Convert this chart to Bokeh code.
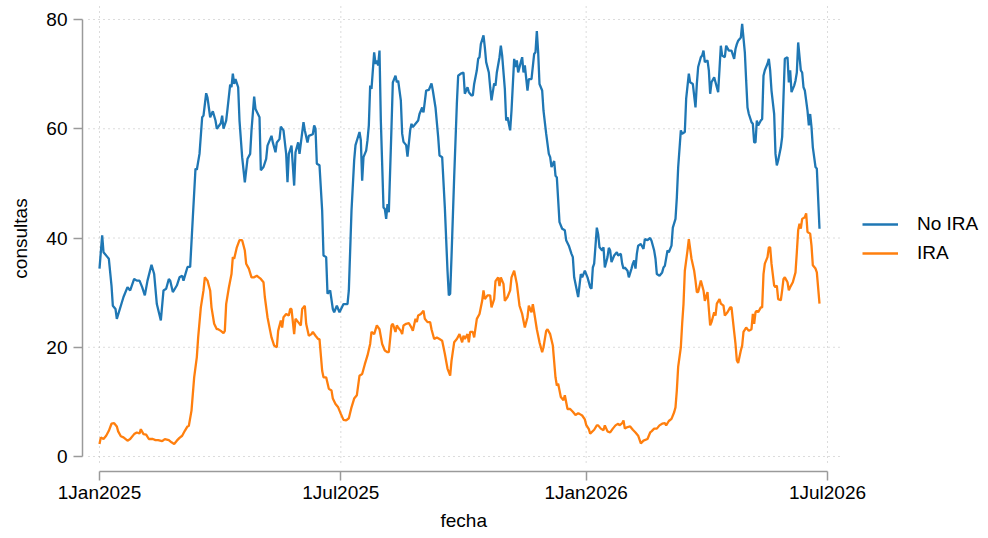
from datetime import date
from bokeh.plotting import figure
from bokeh.models import Range1d, FixedTicker, Legend, LegendItem, Title
from bokeh.embed import file_html
from bokeh.resources import INLINE

# ---------------- data ----------------
start_date = date(2025, 1, 1)
tick_dates = [date(2025, 1, 1), date(2025, 7, 1), date(2026, 1, 1), date(2026, 7, 1)]
tick_labels = ["1Jan2025", "1Jul2025", "1Jan2026", "1Jul2026"]
y_ticks = [0, 20, 40, 60, 80]
x_title = "fecha"
y_title = "consultas"

# days since 1 Jan 2025
no_ira_day = [0, 2, 3, 6, 7, 9, 10, 12, 13, 16, 18, 21, 23, 26, 28, 30, 32, 34, 36, 39, 41, 43, 46, 48, 50,
              52, 53, 55, 58, 60, 62, 63, 66, 68, 70, 72, 73, 75, 77, 78, 80, 81, 83, 85, 87, 88, 91, 92, 93,
              95, 96, 98, 99, 100, 101, 102, 104, 105, 107, 109, 111, 113, 114, 116, 117, 120, 121, 123, 125,
              126, 129, 130, 132, 133, 135, 136, 138, 140, 141, 142, 144, 146, 147, 149, 150, 153, 154, 156,
              157, 160, 161, 162, 163, 165, 167, 168, 170, 171, 173, 175, 176, 178, 180, 183, 186, 187, 189,
              191, 192, 195, 196, 197, 198, 200, 201, 202, 203, 204, 206, 207, 208, 209, 210, 211, 213, 214,
              215, 216, 217, 219, 220, 222, 223, 224, 226, 227, 228, 230, 231, 233, 234, 235, 237, 239, 240,
              242, 243, 245, 247, 249, 250, 252, 254, 255, 257, 259, 261, 262, 263, 264, 266, 268, 269, 271,
              273, 274, 276, 277, 279, 280, 281, 283, 284, 285, 286, 288, 289, 290, 292, 293, 294, 296, 297,
              298, 300, 301, 302, 304, 305, 306, 308, 309, 311, 312, 313, 314, 316, 317, 318, 319, 321, 322,
              324, 326, 327, 328, 329, 330, 332, 333, 335, 337, 338, 339, 341, 342, 343, 345, 347, 349, 350,
              352, 354, 355, 356, 359, 361, 362, 364, 366, 368, 369, 370, 371, 373, 374, 375, 377, 378, 379,
              381, 382, 383, 384, 386, 388, 389, 391, 392, 393, 394, 396, 397, 399, 400, 401, 402, 403, 404,
              406, 408, 409, 411, 413, 414, 416, 417, 418, 420, 422, 423, 424, 426, 427, 429, 430, 432, 433,
              434, 436, 437, 439, 440, 442, 443, 445, 447, 448, 449, 451, 452, 453, 454, 456, 457, 458, 459,
              461, 462, 464, 465, 466, 467, 469, 470, 472, 473, 474, 476, 477, 478, 479, 481, 482, 484, 485,
              486, 487, 489, 490, 491, 492, 493, 494, 496, 497, 498, 499, 501, 502, 503, 504, 506, 507, 508,
              509, 511, 512, 513, 514, 516, 517, 518, 519, 521, 522, 523, 524, 526, 527, 528, 529, 531, 532,
              533, 534, 535, 536, 537, 538, 540]
no_ira_val = [34.4, 40.5, 37.4, 36.5, 36.2, 31.3, 27.6, 27.0, 25.2, 27.6, 29.2, 31.0, 30.4, 32.5, 32.2, 32.2,
              31.0, 29.5, 32.2, 35.1, 33.4, 27.9, 24.9, 30.4, 30.7, 32.5, 32.2, 30.1, 31.3, 32.8, 33.1, 32.2,
              34.7, 34.7, 43.8, 52.7, 52.5, 55.4, 62.1, 62.4, 66.5, 65.7, 62.1, 63.2, 61.5, 60.0, 61.0, 62.4,
              60.0, 61.5, 63.6, 68.1, 67.6, 70.1, 68.2, 69.1, 67.6, 61.5, 54.8, 50.2, 54.5, 55.4, 59.7, 65.9,
              63.6, 62.1, 52.4, 53.0, 54.5, 56.9, 58.7, 57.5, 55.7, 57.5, 58.1, 60.4, 59.7, 55.4, 50.2, 55.4,
              56.9, 49.6, 55.7, 57.5, 55.4, 61.2, 59.7, 57.5, 58.7, 59.0, 60.6, 60.0, 53.6, 53.3, 45.0, 36.8,
              36.5, 29.8, 30.4, 27.0, 26.4, 27.6, 26.4, 27.9, 27.9, 30.4, 45.0, 54.2, 57.0, 59.4, 57.9, 50.5,
              54.8, 56.0, 57.9, 60.6, 67.9, 67.3, 74.0, 71.9, 72.5, 71.6, 74.3, 61.5, 45.6, 45.3, 43.5, 46.2,
              44.7, 60.3, 68.5, 69.7, 68.5, 68.8, 65.2, 59.1, 57.6, 57.0, 54.9, 59.7, 60.9, 60.3, 60.9, 61.5,
              62.7, 63.9, 63.0, 67.0, 67.1, 68.3, 67.0, 63.9, 58.5, 55.1, 54.8, 45.6, 34.0, 29.5, 29.8, 36.5,
              51.1, 64.5, 69.7, 70.1, 70.3, 66.4, 67.6, 66.7, 66.1, 66.1, 68.2, 70.7, 72.8, 73.1, 75.5, 77.1,
              74.9, 72.2, 70.3, 67.6, 65.2, 68.3, 67.9, 70.3, 73.1, 75.2, 73.4, 67.3, 61.5, 62.1, 59.7, 63.3,
              72.8, 71.3, 72.5, 70.3, 72.2, 73.1, 70.3, 71.6, 67.0, 69.1, 69.1, 73.7, 74.0, 77.9, 74.0, 68.2,
              67.0, 63.3, 59.1, 55.4, 54.8, 53.0, 54.1, 51.4, 51.1, 42.9, 41.7, 41.4, 39.6, 38.6, 37.1, 36.5,
              32.8, 29.2, 33.4, 32.8, 34.0, 32.8, 31.0, 30.7, 34.6, 35.3, 41.9, 40.7, 38.3, 37.7, 38.3, 34.6,
              36.5, 38.2, 37.7, 35.6, 36.8, 37.4, 36.8, 37.1, 35.3, 34.4, 34.6, 34.0, 32.8, 34.4, 35.3, 35.9,
              34.4, 37.1, 38.6, 38.9, 38.0, 39.8, 39.6, 40.0, 39.5, 37.7, 36.2, 33.4, 33.1, 33.7, 34.6, 34.9,
              37.7, 37.4, 38.6, 41.9, 43.5, 47.4, 52.9, 59.7, 59.1, 59.4, 65.5, 70.1, 68.5, 68.2, 63.9, 68.2,
              71.3, 73.1, 73.4, 74.3, 72.2, 72.5, 70.7, 66.4, 68.5, 69.4, 68.5, 66.7, 70.9, 75.2, 73.4, 73.1,
              75.2, 74.3, 74.3, 74.3, 72.8, 74.6, 75.5, 76.1, 76.7, 79.2, 74.0, 68.8, 63.9, 62.7, 61.2, 60.9,
              57.5, 57.5, 61.5, 60.6, 61.5, 61.8, 69.7, 70.7, 71.9, 72.8, 70.7, 67.0, 62.7, 55.4, 53.3, 54.2,
              56.6, 58.5, 65.8, 72.8, 73.1, 68.5, 70.7, 66.7, 67.9, 68.8, 70.3, 75.8, 70.7, 70.3, 67.6, 67.0,
              63.3, 60.6, 62.7, 60.3, 56.6, 54.8, 53.0, 52.7, 41.7]

ira_day = [0, 1, 3, 5, 7, 9, 11, 13, 14, 16, 18, 21, 23, 26, 28, 30, 31, 33, 35, 37, 40, 42, 44, 47, 49, 52,
           54, 56, 58, 60, 62, 64, 66, 67, 69, 71, 73, 74, 76, 78, 79, 81, 83, 84, 86, 88, 89, 91, 93, 94, 95,
           97, 99, 100, 101, 103, 105, 107, 109, 110, 112, 114, 116, 118, 119, 121, 123, 124, 126, 128, 129,
           131, 133, 134, 136, 137, 138, 140, 142, 143, 144, 146, 147, 149, 151, 152, 154, 155, 157, 159, 160,
           162, 164, 165, 167, 168, 170, 172, 174, 175, 177, 179, 181, 183, 185, 187, 189, 191, 193, 195, 197,
           199, 201, 203, 204, 206, 208, 210, 212, 214, 216, 217, 219, 220, 222, 223, 224, 226, 227, 228, 230,
           232, 234, 235, 237, 238, 239, 241, 243, 244, 246, 248, 249, 251, 253, 255, 257, 259, 261, 263, 264,
           266, 268, 270, 272, 273, 274, 276, 277, 278, 280, 281, 283, 285, 287, 288, 289, 291, 293, 294, 296,
           297, 299, 300, 301, 303, 304, 306, 308, 309, 311, 313, 315, 317, 319, 321, 322, 324, 325, 326, 328,
           330, 332, 333, 335, 336, 338, 340, 342, 343, 344, 346, 348, 349, 351, 352, 353, 355, 357, 359, 360,
           362, 364, 365, 367, 368, 371, 373, 374, 376, 378, 379, 381, 383, 385, 387, 389, 390, 392, 393, 394,
           396, 398, 400, 402, 404, 406, 408, 411, 413, 414, 416, 418, 420, 422, 424, 425, 427, 429, 431, 432,
           433, 434, 436, 437, 438, 439, 441, 442, 443, 444, 446, 447, 448, 449, 451, 452, 453, 454, 456, 457,
           458, 459, 461, 462, 463, 465, 466, 468, 469, 471, 473, 474, 476, 477, 478, 479, 481, 482, 483, 485,
           487, 489, 490, 491, 492, 493, 494, 496, 497, 498, 499, 501, 502, 503, 504, 506, 507, 508, 509, 511,
           512, 513, 514, 516, 517, 518, 520, 522, 523, 524, 525, 526, 527, 529, 530, 531, 533, 534, 535, 537,
           538, 540]
ira_val = [2.3, 3.5, 3.2, 3.8, 4.7, 6.0, 6.1, 5.5, 4.6, 3.7, 3.5, 2.9, 3.2, 4.1, 4.4, 4.2, 5.0, 4.1, 4.0, 3.2,
           3.2, 3.0, 3.0, 2.8, 3.2, 3.0, 2.6, 2.3, 2.9, 3.4, 3.8, 4.7, 5.5, 5.6, 8.4, 14.5, 18.2, 21.8, 27.3,
           30.4, 32.8, 32.2, 30.4, 27.3, 24.3, 23.3, 23.3, 23.0, 22.6, 23.0, 27.9, 30.9, 33.4, 36.5, 36.2, 38.3,
           39.6, 39.6, 37.7, 35.3, 34.4, 32.8, 32.8, 33.1, 32.9, 32.5, 31.9, 29.2, 25.5, 23.0, 21.8, 20.3, 20.0,
           23.0, 24.9, 23.6, 25.5, 26.1, 25.8, 27.0, 27.0, 22.4, 25.2, 24.6, 24.0, 27.0, 27.6, 24.3, 22.1, 22.4,
           22.8, 22.1, 21.5, 21.5, 15.7, 14.5, 14.5, 12.4, 12.1, 10.6, 9.6, 9.0, 7.8, 6.7, 6.6, 7.0, 9.0, 10.6,
           11.2, 14.8, 15.1, 16.9, 18.5, 20.6, 22.8, 22.4, 24.0, 23.3, 20.6, 19.4, 19.1, 19.1, 24.0, 24.3, 22.8,
           24.0, 23.6, 23.0, 22.4, 24.0, 24.3, 24.4, 23.6, 23.0, 25.2, 24.6, 25.8, 26.1, 26.7, 25.2, 24.6, 24.6,
           23.3, 21.5, 21.8, 21.5, 21.2, 18.8, 16.1, 14.8, 17.5, 20.9, 21.5, 22.4, 20.9, 22.1, 21.5, 22.4, 20.9,
           22.8, 22.8, 21.8, 25.2, 26.1, 28.5, 30.4, 28.8, 29.5, 29.5, 27.3, 28.8, 32.1, 32.8, 31.2, 32.8, 31.6,
           28.5, 29.2, 30.4, 32.8, 34.0, 31.6, 27.6, 26.1, 23.6, 25.5, 27.6, 26.4, 27.9, 26.4, 23.3, 20.9, 19.1,
           20.0, 23.0, 23.3, 22.4, 20.3, 14.5, 13.0, 13.3, 10.9, 10.3, 11.2, 8.7, 8.7, 8.7, 8.2, 7.6, 7.9, 7.8,
           7.5, 6.8, 5.8, 5.0, 4.2, 4.9, 5.7, 5.7, 5.1, 4.8, 5.7, 4.6, 4.4, 5.1, 5.7, 6.0, 5.7, 6.1, 6.6, 5.1,
           5.4, 5.5, 4.9, 4.4, 3.8, 2.4, 2.9, 3.2, 4.4, 4.6, 5.1, 5.1, 5.7, 6.0, 6.1, 5.7, 6.5, 6.9, 8.1, 9.0,
           12.1, 16.4, 20.0, 24.3, 27.9, 34.0, 37.7, 39.8, 38.0, 36.2, 34.0, 32.2, 30.1, 30.1, 32.2, 31.3, 30.4,
           28.5, 30.1, 27.0, 24.0, 24.6, 26.4, 25.8, 28.0, 28.8, 28.0, 27.6, 25.8, 26.4, 27.3, 27.3, 22.8, 20.6,
           17.6, 17.1, 19.4, 20.3, 22.8, 23.6, 23.0, 23.3, 26.1, 24.3, 26.4, 26.7, 26.4, 27.3, 27.3, 33.4, 35.3,
           36.5, 38.3, 38.3, 35.3, 31.3, 31.0, 31.3, 28.8, 28.6, 30.4, 32.5, 32.8, 31.9, 30.4, 31.0, 31.9, 33.7,
           37.4, 41.4, 42.6, 41.7, 43.5, 43.8, 44.5, 41.1, 40.8, 38.6, 35.0, 34.4, 33.7, 28.0]

series_names = ["No IRA", "IRA"]
series_colors = ["#1f77b4", "#ff7f0e"]

# ---------------- figure ----------------
tick_days = [(d - start_date).days for d in tick_dates]
FONT = "Liberation Sans"
FS = "19px"

# The frame runs from the y-axis line to the right edge so that the legend fits
# inside it; the dotted grid and the axis lines are drawn only over the data area.
p = figure(width=988, height=538, output_backend="svg", toolbar_location=None,
           x_range=Range1d(-12.75, 666.75), y_range=Range1d(-2.746, 82.563),
           min_border_left=82, min_border_right=0, min_border_top=5, min_border_bottom=67)
p.outline_line_color = None
p.background_fill_color = "white"
p.border_fill_color = "white"
p.xgrid.visible = False
p.ygrid.visible = False

grid_style = dict(line_color="#b8b8b8", line_dash="1 4", line_width=1)
p.segment(x0=[-8.25] * len(y_ticks), y0=y_ticks, x1=[556.5] * len(y_ticks), y1=y_ticks, **grid_style)
p.segment(x0=tick_days, y0=[-1.1] * len(tick_days), x1=tick_days, y1=[82.563] * len(tick_days), **grid_style)

r1 = p.line(no_ira_day, no_ira_val, line_color=series_colors[0], line_width=2.3)
r2 = p.line(ira_day, ira_val, line_color=series_colors[1], line_width=2.3)

# axes
for ax in (p.xaxis[0], p.yaxis[0]):
    ax.axis_line_color = "#9a9a9a"
    ax.axis_line_width = 1.5
    ax.major_tick_line_color = "#9a9a9a"
    ax.major_tick_line_width = 1.5
    ax.major_tick_out = 9
    ax.major_tick_in = 0
    ax.minor_tick_line_color = None
    ax.major_label_text_font = FONT
    ax.major_label_text_font_size = FS
    ax.major_label_text_color = "black"
    ax.axis_label_text_font = FONT
    ax.axis_label_text_font_size = FS
    ax.axis_label_text_font_style = "normal"
    ax.axis_label_text_color = "black"

p.xaxis.ticker = FixedTicker(ticks=tick_days)
p.xaxis.major_label_overrides = {d: lab for d, lab in zip(tick_days, tick_labels)}
p.xaxis.bounds = (tick_days[0], tick_days[-1])
p.xaxis.major_label_standoff = 1

p.yaxis.ticker = FixedTicker(ticks=y_ticks)
p.yaxis.bounds = (y_ticks[0], y_ticks[-1])
p.yaxis.axis_label = y_title
p.yaxis.major_label_standoff = 6
p.yaxis.axis_label_standoff = 12

# x-axis title centred under the data area (not under the wider frame)
xt = Title(text=x_title, align="left", offset=358, standoff=4,
           text_font=FONT, text_font_size=FS, text_font_style="normal", text_color="black")
p.add_layout(xt, "below")

# legend to the right of the data area (screen offset from frame's bottom-left)
legend = Legend(items=[LegendItem(label=series_names[0], renderers=[r1]),
                       LegendItem(label=series_names[1], renderers=[r2])],
                location=(780, 207))
legend.padding = 0
legend.margin = 0
legend.spacing = 7
legend.glyph_width = 36
legend.glyph_height = 20
legend.label_height = 20
legend.label_standoff = 19
legend.label_text_font = FONT
legend.label_text_font_size = FS
legend.label_text_color = "black"
legend.border_line_color = None
legend.background_fill_alpha = 0
p.add_layout(legend)

open("out.html", "w").write(file_html(p, INLINE))
